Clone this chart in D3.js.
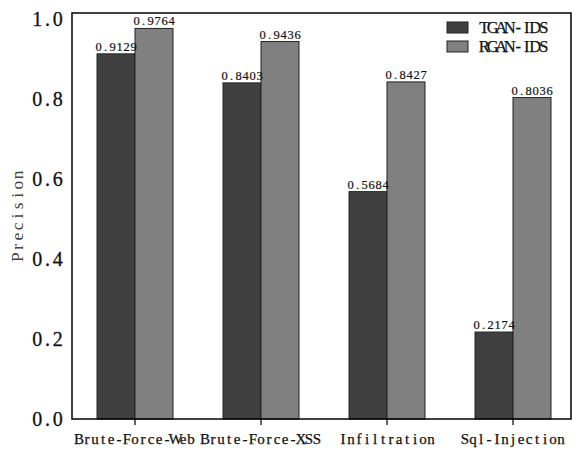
<!DOCTYPE html>
<html><head><meta charset="utf-8">
<script src="https://cdn.jsdelivr.net/npm/d3@7"></script>
<style>body{margin:0;background:#fff}svg{display:block}</style>
</head><body>
<script>
const categories = ["Brute-Force-Web","Brute-Force-XSS","Infiltration","Sql-Injection"];
const seriesNames = ["TGAN-IDS","RGAN-IDS"];
const tgan = [0.9129, 0.8403, 0.5684, 0.2174];
const rgan = [0.9764, 0.9436, 0.8427, 0.8036];
const yTicks = [0.0, 0.2, 0.4, 0.6, 0.8, 1.0];
const colors = ["#404040", "#808080"];

(function(){
const W = 572, H = 450;
const font = "'Liberation Serif', 'DejaVu Serif', serif";
const svg = d3.select("body").append("svg").attr("width", W).attr("height", H);

// emulate fixed half-width advance of the original font: place each glyph centred in its own cell
function mono(sel, per, anchor) {
  sel.each(function(){
    const el = this;
    const n = el.textContent.length;
    const ax = +el.getAttribute("x");
    const widths = [];
    for (let i = 0; i < n; i++) widths.push(el.getSubStringLength(i, 1));
    const total = n * per;
    const x0 = anchor === "middle" ? ax - total/2 : anchor === "end" ? ax - total : ax;
    const xs = widths.map((w, i) => (x0 + i*per + (per - w)/2).toFixed(2));
    el.setAttribute("text-anchor", "start");
    el.setAttribute("x", xs.join(" "));
  });
}

const mLeft = 72, mRight = 571, mTop = 13, mBottom = 419;
const x = d3.scaleBand().domain(categories).range([mLeft, 576]).padding(0);
const y = d3.scaleLinear().domain([0, 1]).range([mBottom, 19]);
const sub = d3.scaleBand().domain(seriesNames).range([0, 76]);

const series = [tgan, rgan];
seriesNames.forEach((s, si) => {
  svg.append("g").selectAll("rect").data(categories).join("rect")
    .attr("x", (c) => x(c) + x.bandwidth()/2 - 38 + sub(s))
    .attr("y", (c, i) => y(series[si][i]))
    .attr("width", sub.bandwidth())
    .attr("height", (c, i) => mBottom - y(series[si][i]))
    .attr("fill", colors[si])
    .attr("stroke", "#222").attr("stroke-width", 1);
});
seriesNames.forEach((s, si) => {
  const t = svg.append("g").selectAll("text").data(categories).join("text")
    .attr("x", (c) => x(c) + x.bandwidth()/2 - 38 + sub(s) + sub.bandwidth()/2)
    .attr("y", (c, i) => y(series[si][i]) - 3)
    .attr("font-family", font).attr("font-size", 12.5).attr("fill", "#111")
    .attr("stroke", "#111").attr("stroke-width", 0.2)
    .text((c, i) => series[si][i].toFixed(4));
  mono(t, 7, "middle");
});

svg.append("rect").attr("x", mLeft).attr("y", mTop).attr("width", mRight - mLeft).attr("height", mBottom - mTop)
  .attr("fill", "none").attr("stroke", "#000").attr("stroke-width", 1.5);

const yt = svg.append("g").selectAll("text").data(yTicks).join("text")
  .attr("x", 63).attr("y", d => y(d)).attr("dy", "0.35em")
  .attr("font-family", font).attr("font-size", 20).attr("fill", "#111")
  .attr("stroke", "#111").attr("stroke-width", 0.3)
  .text(d => d.toFixed(1));
mono(yt, 10.3, "end");

const xg = svg.append("g");
xg.selectAll("line").data(categories).join("line")
  .attr("x1", c => x(c) + x.bandwidth()/2).attr("x2", c => x(c) + x.bandwidth()/2)
  .attr("y1", mBottom).attr("y2", mBottom + 6).attr("stroke", "#000").attr("stroke-width", 1.2);
const xt = xg.selectAll("text").data(categories).join("text")
  .attr("x", c => x(c) + x.bandwidth()/2).attr("y", 439).attr("dy", "0.35em")
  .attr("font-family", font).attr("font-size", 15).attr("fill", "#111")
  .attr("stroke", "#111").attr("stroke-width", 0.25)
  .text(c => c);
mono(xt, 8.0, "middle");

const yl = svg.append("text").attr("transform", "translate(17,216) rotate(-90)")
  .attr("x", 0).attr("dy", "0.35em")
  .attr("font-family", font).attr("font-size", 17.5).attr("fill", "#444")
  .text("Precision");
mono(yl, 10.3, "middle");

const lg = svg.append("g");
seriesNames.forEach((s, i) => {
  lg.append("rect").attr("x", 447).attr("y", 22 + i*19).attr("width", 21).attr("height", 11)
    .attr("fill", colors[i]).attr("stroke", "#222").attr("stroke-width", 1);
  const lt = lg.append("text").attr("x", 480).attr("y", 27.5 + i*19).attr("dy", "0.35em")
    .attr("font-family", font).attr("font-size", 16.5).attr("fill", "#111")
    .attr("stroke", "#111").attr("stroke-width", 0.25).text(s);
  mono(lt, 8.5, "start");
});
})();
</script>
</body></html>
